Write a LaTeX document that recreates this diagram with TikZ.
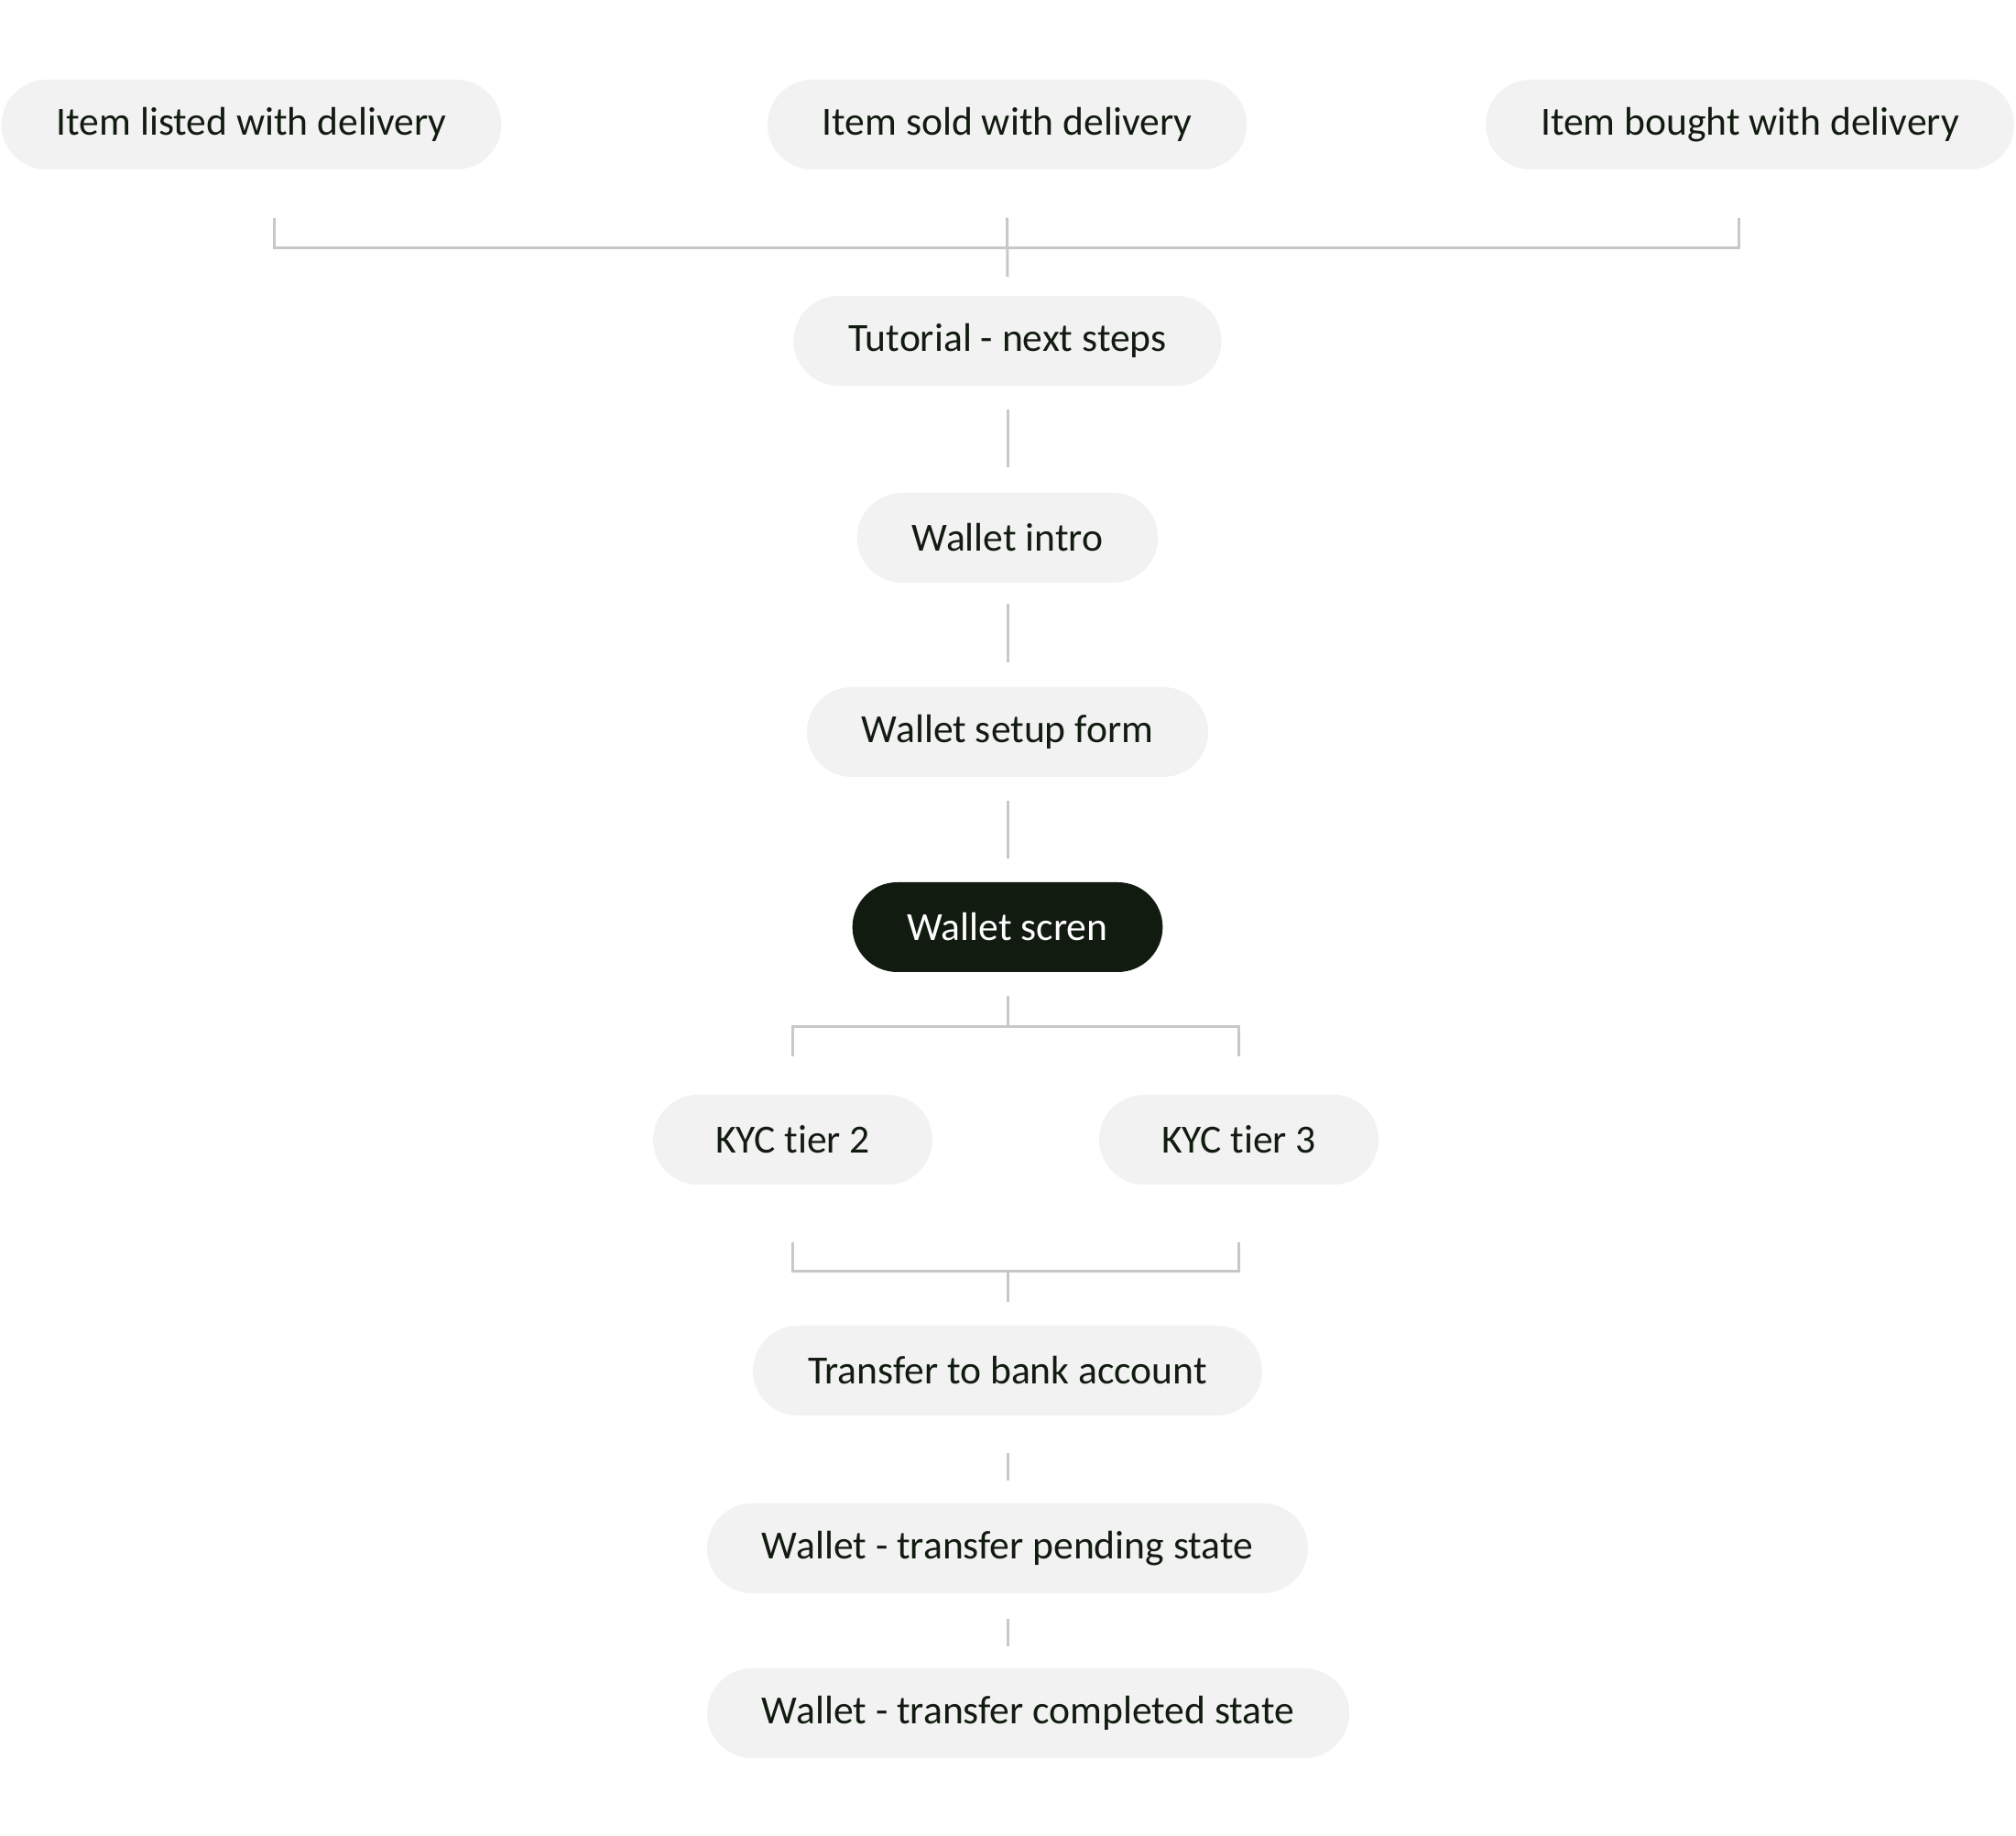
\documentclass[tikz,border=0pt]{standalone}
\usepackage{fontspec}
\setmainfont{Carlito}[Ligatures=NoCommon]
\usepackage{tikz}
\usetikzlibrary{calc}
\definecolor{pillgray}{HTML}{F2F2F2}
\definecolor{inkdark}{HTML}{111B10}
\definecolor{linkgray}{HTML}{C8C8C8}

\begin{document}
\begin{tikzpicture}
   \useasboundingbox (0,0) rectangle (22.01,-20.04);
   \coordinate (lastrow) at (0,-18.70);
   \begin{scope}[every node/.style={rectangle,fill=pillgray,text=inkdark,
       rounded corners=0.49cm,minimum height=0.98cm,inner xsep=0.6cm,
       font=\fontsize{12.4}{14}\selectfont}]
    \node (listed) at (2.745,-1.36) {Item listed with delivery};
    \node (sold) at (10.995,-1.36) {Item sold with delivery};
    \node (bought) at (19.105,-1.36) {Item bought with delivery};
    \node (tut) at (11.0,-3.72) {Tutorial - next steps};
    \node (intro) at (11.0,-5.87) {Wallet intro};
    \node (setup) at (11.0,-7.99) {Wallet setup form};
    \node[fill=inkdark,text=white] (screen) at (11.0,-10.12) {Wallet scren};
    \node[minimum width=3.05cm] (kyc2) at (8.655,-12.44) {KYC tier 2};
    \node[minimum width=3.05cm] (kyc3) at (13.525,-12.44) {KYC tier 3};
    \node (transfer) at (11.0,-14.96) {Transfer to bank account};
    \node (pending) at (11.0,-16.90) {Wallet - transfer pending state};
    \node[anchor=west] (done) at (pending.west |- lastrow) {Wallet - transfer completed state};
   \end{scope}
   \begin{scope}[every path/.style={draw=linkgray,line width=0.03cm}]
    \draw ([xshift=0.245cm,yshift=-0.52cm]listed.south) |- ([yshift=-0.85cm]sold.south) -| ([xshift=-0.125cm,yshift=-0.52cm]bought.south);
    \draw ([yshift=-0.52cm]sold.south) -- ([yshift=0.20cm]tut.north);
    \draw[shorten <=0.25cm,shorten >=0.27cm] (tut.south) -- (intro.north);
    \draw[shorten <=0.22cm,shorten >=0.26cm] (intro.south) -- (setup.north);
    \draw[shorten <=0.25cm,shorten >=0.25cm] (setup.south) -- (screen.north);
    \draw ([yshift=-0.25cm]screen.south) -- ([yshift=-0.59cm]screen.south);
    \draw ([yshift=0.41cm]kyc2.north) |- ([yshift=-0.59cm]screen.south) -| ([yshift=0.41cm]kyc3.north);
    \draw ([yshift=-0.62cm]kyc2.south) |- ([yshift=0.59cm]transfer.north) -| ([yshift=-0.62cm]kyc3.south);
    \draw ([yshift=0.59cm]transfer.north) -- ([yshift=0.25cm]transfer.north);
    \draw[shorten <=0.40cm,shorten >=0.24cm] (transfer.south) -- (pending.north);
    \draw[shorten <=0.27cm,shorten >=0.23cm] (pending.south) -- (pending.south |- done.north);
   \end{scope}
\end{tikzpicture}
\end{document}
